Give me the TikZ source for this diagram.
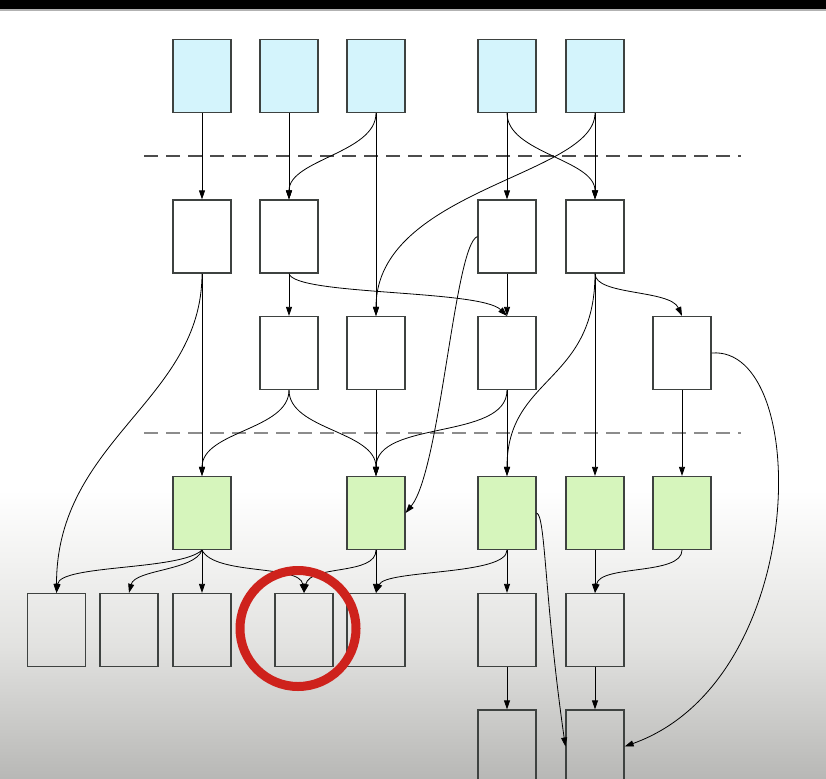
\documentclass[tikz,border=0pt]{standalone}
\usepackage{tikz}
\usetikzlibrary{arrows.meta}
\definecolor{srcblue}{RGB}{212,244,252}
\definecolor{leafgreen}{RGB}{214,245,188}
\definecolor{boxline}{RGB}{62,66,64}
\definecolor{bgmid}{RGB}{226,226,224}
\definecolor{bggray}{RGB}{184,184,182}
\definecolor{ringred}{RGB}{206,34,28}
\pgfdeclareverticalshading{bgfade}{100bp}{color(0bp)=(bggray); color(25bp)=(bggray); color(48bp)=(bgmid); color(75bp)=(white); color(100bp)=(white)}

\begin{document}
\begin{tikzpicture}[x=1pt,y=-1pt,
    box/.style={draw=boxline,line width=1.2pt,minimum width=58pt,minimum height=73pt,inner sep=0pt},
    edge/.style={-{Triangle[length=9pt,width=6pt]},line width=0.8pt}]
            \useasboundingbox (0,0) rectangle (826,778);
            \clip (0,0) rectangle (826,778);
            \fill[white] (0,0) rectangle (826,778);
            \shade[shading=bgfade] (0,490) rectangle (826,778);
            \fill[black] (0,0) rectangle (826,9);
            \fill[gray!60] (0,9) rectangle (826,11);
            \draw[dashed,dash pattern=on 14pt off 8pt,line width=1.3pt,black!70] (144,156)--(741,156);
            \draw[dashed,dash pattern=on 14pt off 8pt,line width=1.3pt,black!45] (144,433)--(741,433);
            % boxes
            \foreach \n/\x in {1/202,2/289,3/376,4/507,5/595} \node[box,fill=srcblue] (b\n) at (\x,76) {};
            \foreach \n/\x in {1/202,2/289,4/507,5/595} \node[box,fill=white] (w\n) at (\x,236.5) {};
            \foreach \n/\x in {2/289,3/376,4/507,6/682} \node[box,fill=white] (m\n) at (\x,353) {};
            \foreach \n/\x in {1/202,3/376,4/507,5/595,6/682} \node[box,fill=leafgreen] (g\n) at (\x,513) {};
            \foreach \n/\x in {1/56.5,2/129,3/202,4/304,5/376,6/507,7/595} \node[box] (l\n) at (\x,630) {};
            \foreach \n/\x in {6/507,7/595} \node[box] (r\n) at (\x,746.5) {};
            % straight edges
            \foreach \a/\b in {b1/w1,b2/w2,b3/m3,b4/w4,b5/w5,w1/g1,w2/m2,w4/m4,w5/g5,m3/g3,m4/g4,m6/g6,g1/l3,g3/l5,g4/l6,g5/l7,l6/r6,l7/r7}
                \draw[edge] (\a.south)--(\b.north);
            % curved edges
            \draw[edge] (b3.south) .. controls +(0,40) and +(0,-40) .. (w2.north);
            \draw[edge] (b4.south) .. controls +(0,40) and +(0,-40) .. (w5.north);
            \draw[edge] (b5.south) .. controls +(0,62.5) and +(0,-126.5) .. (m3.north);
            \draw[edge] (w1.south) .. controls +(0,127) and +(0,-153.5) .. (l1.north);
            \draw[edge] (w2.south) .. controls +(6,22) and +(-27,-26.5) .. (m4.north);
            \draw[edge] (w4.west) .. controls +(-23,8.5) and +(35,-43) .. (g3.east);
            \draw[edge] (w5.south) .. controls +(0,110) and +(0,-100) .. (g4.north);
            \draw[edge] (w5.south) .. controls +(0,22) and +(-12,-26.5) .. (m6.north);
            \draw[edge] (m2.south) .. controls +(0,40) and +(0,-45) .. (g1.north);
            \draw[edge] (m2.south) .. controls +(0,40) and +(0,-45) .. (g3.north);
            \draw[edge] (m4.south) .. controls +(0,50.5) and +(0,-56.5) .. (g3.north);
            \draw[edge] (m6.east) .. controls +(100,-8) and +(186,-66.5) .. (r7.east);
            \draw[edge] (g1.south) .. controls +(-22,20.5) and +(3.5,-28.5) .. (l1.north);
            \draw[edge] (g1.south) .. controls +(-7,20.5) and +(6,-23.5) .. (l2.north);
            \draw[edge] (g1.south) .. controls +(13,25.5) and +(-4,-28.5) .. (l4.north);
            \draw[edge] (g3.south) .. controls +(0,25.5) and +(6,-28.5) .. (l4.north);
            \draw[edge] (g4.south) .. controls +(0,25.5) and +(9,-23.5) .. (l5.north);
            \draw[edge] (g4.east) .. controls +(9,2) and +(-21,-146.5) .. (r7.west);
            \draw[edge] (g6.south) .. controls +(0,25.5) and +(5,-28.5) .. (l7.north);
            % marked box
            \draw[ringred,line width=9pt] (298,628.5) circle[radius=58pt];
        \end{tikzpicture}
\end{document}
